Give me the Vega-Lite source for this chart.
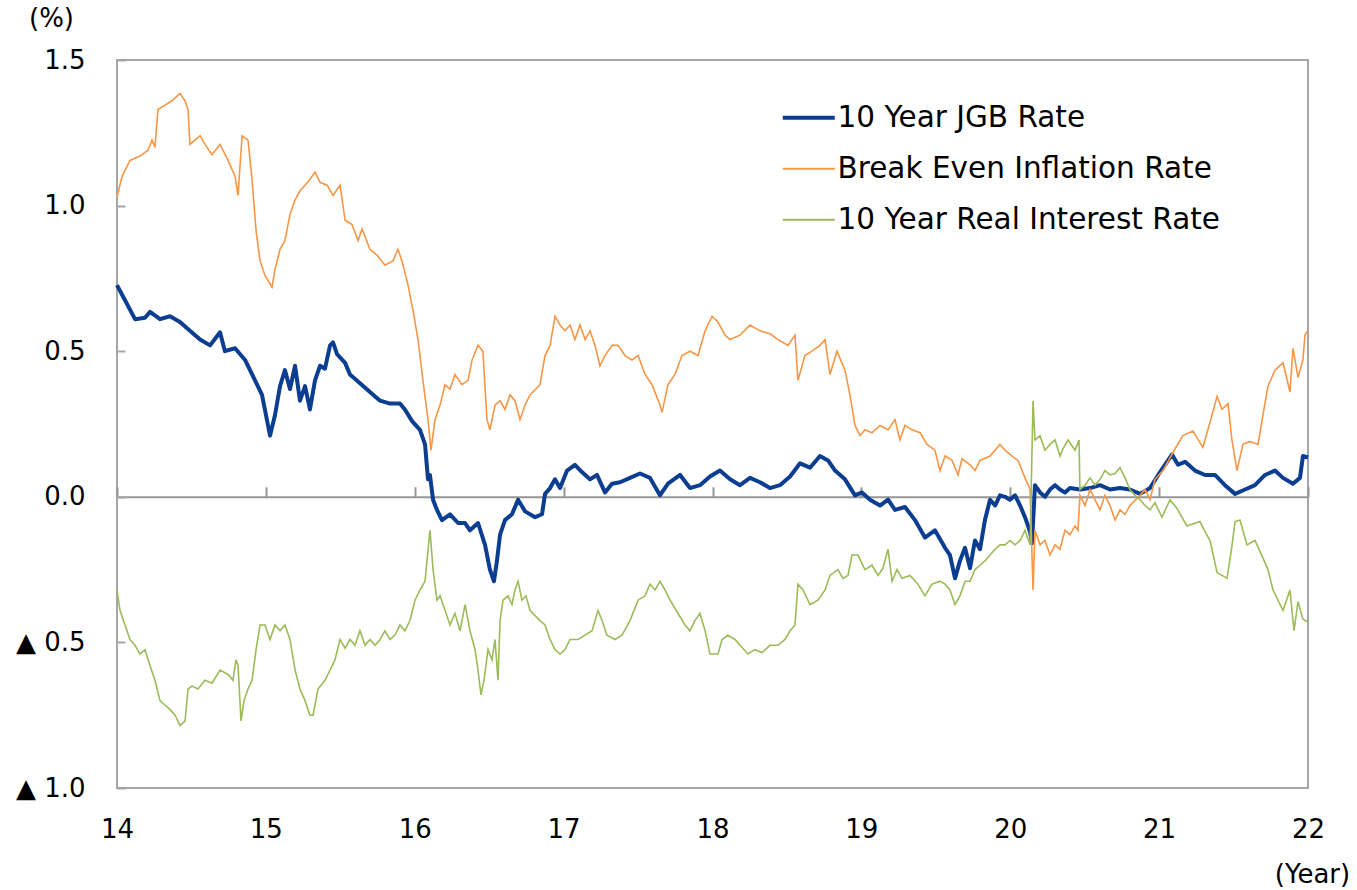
{
"$schema": "https://vega.github.io/schema/vega-lite/v6.json",
"width": 1191, "height": 728,
"autosize": {"type": "none"},
"padding": {"left": 117, "top": 60, "right": 49, "bottom": 102},
"background": "white",
"config": {
  "view": {"stroke": "#a6a6a6", "strokeWidth": 2},
  "font": "DejaVu Sans",
  "axis": {"labelFont": "DejaVu Sans", "titleFont": "DejaVu Sans", "labelColor": "#000", "titleColor": "#000", "grid": false, "labelFontSize": 26, "titleFontSize": 26, "titleFontWeight": "normal"}
},
"encoding": {
  "y": {"field": "v", "type": "quantitative",
    "scale": {"domain": [-1, 1.5], "nice": false, "zero": false},
    "axis": {"values": [-1, -0.5, 0, 0.5, 1, 1.5], "domain": false, "ticks": true, "tickSize": -8, "tickColor": "#a6a6a6", "tickWidth": 2, "labelPadding": 40,
      "labelExpr": "datum.value < 0 ? '▲ ' + format(-datum.value, '.1f') : format(datum.value, '.1f')",
      "title": "(%)", "titleAngle": 0, "titleX": -66, "titleY": -42, "titleAlign": "center", "titleBaseline": "middle"}}
},
"layer": [
{
  "data": {"values": [
{"t":14.000,"v":0.727},{"t":14.054,"v":0.675},{"t":14.121,"v":0.61},{"t":14.188,"v":0.615},{"t":14.222,"v":0.635},{"t":14.289,"v":0.61},{"t":14.356,"v":0.62},{"t":14.423,"v":0.60},{"t":14.490,"v":0.57},{"t":14.558,"v":0.54},{"t":14.625,"v":0.52},{"t":14.692,"v":0.565},{"t":14.725,"v":0.50},{"t":14.793,"v":0.51},{"t":14.860,"v":0.47},{"t":14.927,"v":0.40},{"t":14.974,"v":0.35},{"t":15.028,"v":0.21},{"t":15.061,"v":0.28},{"t":15.095,"v":0.38},{"t":15.128,"v":0.435},{"t":15.162,"v":0.37},{"t":15.196,"v":0.45},{"t":15.229,"v":0.33},{"t":15.263,"v":0.38},{"t":15.296,"v":0.30},{"t":15.330,"v":0.40},{"t":15.364,"v":0.45},{"t":15.397,"v":0.44},{"t":15.431,"v":0.52},{"t":15.451,"v":0.53},{"t":15.478,"v":0.49},{"t":15.532,"v":0.46},{"t":15.565,"v":0.42},{"t":15.632,"v":0.39},{"t":15.699,"v":0.36},{"t":15.767,"v":0.33},{"t":15.834,"v":0.32},{"t":15.901,"v":0.32},{"t":15.934,"v":0.30},{"t":15.982,"v":0.26},{"t":16.035,"v":0.23},{"t":16.069,"v":0.18},{"t":16.089,"v":0.06},{"t":16.102,"v":0.075},{"t":16.123,"v":-0.01},{"t":16.149,"v":-0.045},{"t":16.183,"v":-0.08},{"t":16.237,"v":-0.06},{"t":16.291,"v":-0.09},{"t":16.338,"v":-0.09},{"t":16.371,"v":-0.115},{"t":16.425,"v":-0.09},{"t":16.472,"v":-0.165},{"t":16.505,"v":-0.25},{"t":16.532,"v":-0.29},{"t":16.552,"v":-0.22},{"t":16.573,"v":-0.13},{"t":16.606,"v":-0.08},{"t":16.653,"v":-0.06},{"t":16.694,"v":-0.01},{"t":16.741,"v":-0.05},{"t":16.808,"v":-0.07},{"t":16.855,"v":-0.06},{"t":16.875,"v":0.01},{"t":16.909,"v":0.03},{"t":16.942,"v":0.06},{"t":16.976,"v":0.03},{"t":17.023,"v":0.09},{"t":17.076,"v":0.11},{"t":17.123,"v":0.085},{"t":17.177,"v":0.06},{"t":17.224,"v":0.075},{"t":17.278,"v":0.015},{"t":17.325,"v":0.045},{"t":17.379,"v":0.05},{"t":17.446,"v":0.065},{"t":17.513,"v":0.08},{"t":17.580,"v":0.065},{"t":17.647,"v":0.005},{"t":17.701,"v":0.045},{"t":17.782,"v":0.075},{"t":17.849,"v":0.03},{"t":17.916,"v":0.04},{"t":17.983,"v":0.07},{"t":18.050,"v":0.09},{"t":18.118,"v":0.06},{"t":18.185,"v":0.04},{"t":18.252,"v":0.065},{"t":18.319,"v":0.05},{"t":18.386,"v":0.03},{"t":18.453,"v":0.04},{"t":18.521,"v":0.07},{"t":18.588,"v":0.115},{"t":18.655,"v":0.10},{"t":18.722,"v":0.14},{"t":18.776,"v":0.125},{"t":18.823,"v":0.09},{"t":18.890,"v":0.06},{"t":18.957,"v":0.005},{"t":19.004,"v":0.015},{"t":19.058,"v":-0.01},{"t":19.125,"v":-0.03},{"t":19.179,"v":-0.01},{"t":19.226,"v":-0.045},{"t":19.293,"v":-0.035},{"t":19.360,"v":-0.08},{"t":19.427,"v":-0.14},{"t":19.494,"v":-0.115},{"t":19.562,"v":-0.175},{"t":19.595,"v":-0.2},{"t":19.629,"v":-0.28},{"t":19.662,"v":-0.22},{"t":19.696,"v":-0.175},{"t":19.730,"v":-0.245},{"t":19.763,"v":-0.15},{"t":19.797,"v":-0.18},{"t":19.830,"v":-0.08},{"t":19.864,"v":-0.01},{"t":19.898,"v":-0.03},{"t":19.931,"v":0.005},{"t":19.965,"v":0.0},{"t":19.998,"v":-0.01},{"t":20.032,"v":0.005},{"t":20.066,"v":-0.03},{"t":20.099,"v":-0.07},{"t":20.133,"v":-0.12},{"t":20.146,"v":-0.16},{"t":20.166,"v":0.04},{"t":20.200,"v":0.015},{"t":20.233,"v":0.0},{"t":20.267,"v":0.025},{"t":20.301,"v":0.04},{"t":20.334,"v":0.025},{"t":20.368,"v":0.015},{"t":20.401,"v":0.03},{"t":20.468,"v":0.025},{"t":20.536,"v":0.03},{"t":20.603,"v":0.04},{"t":20.670,"v":0.025},{"t":20.737,"v":0.03},{"t":20.804,"v":0.025},{"t":20.872,"v":0.01},{"t":20.939,"v":0.03},{"t":21.006,"v":0.085},{"t":21.086,"v":0.145},{"t":21.127,"v":0.11},{"t":21.174,"v":0.12},{"t":21.241,"v":0.09},{"t":21.308,"v":0.075},{"t":21.375,"v":0.075},{"t":21.442,"v":0.04},{"t":21.510,"v":0.01},{"t":21.577,"v":0.025},{"t":21.644,"v":0.04},{"t":21.711,"v":0.075},{"t":21.778,"v":0.09},{"t":21.832,"v":0.065},{"t":21.899,"v":0.045},{"t":21.946,"v":0.065},{"t":21.966,"v":0.14},{"t":22.000,"v":0.135}
  ]},
  "mark": {"type": "line", "strokeWidth": 4, "strokeJoin": "round"},
  "encoding": {
    "x": {"field": "t", "type": "quantitative", "scale": {"domain": [14, 22], "nice": false, "zero": false},
      "axis": {"orient": "bottom", "values": [14, 15, 16, 17, 18, 19, 20, 21, 22], "format": "d", "domain": false, "ticks": false, "labelPadding": 28, "labelFlush": false,
        "title": "(Year)", "titleX": 1195, "titleY": 86, "titleAlign": "center", "titleBaseline": "middle", "titleAnchor": null}},
    "color": {"datum": "10 Year JGB Rate", "type": "nominal",
      "scale": {"domain": ["10 Year JGB Rate", "Break Even Inflation Rate", "10 Year Real Interest Rate"], "range": ["#0b3d91", "#f79646", "#9bbb59"]},
      "legend": {"title": null, "orient": "none", "legendX": 677, "legendY": 43, "symbolType": "stroke", "symbolSize": 2704, "symbolStrokeWidth": 2, "labelFontSize": 29.5, "labelFont": "DejaVu Sans", "labelColor": "#000", "labelOffset": 14, "rowPadding": 20, "labelLimit": 600,
        "encode": {"symbols": {"update": {"strokeWidth": {"signal": "datum.value === '10 Year JGB Rate' ? 4 : 2"}}}}}}
  }
},
{
  "data": {"values": [
{"t":14.000,"v":1.03},{"t":14.034,"v":1.10},{"t":14.087,"v":1.155},{"t":14.154,"v":1.17},{"t":14.208,"v":1.19},{"t":14.235,"v":1.225},{"t":14.255,"v":1.20},{"t":14.275,"v":1.33},{"t":14.322,"v":1.345},{"t":14.369,"v":1.36},{"t":14.423,"v":1.385},{"t":14.457,"v":1.36},{"t":14.477,"v":1.33},{"t":14.490,"v":1.21},{"t":14.524,"v":1.225},{"t":14.558,"v":1.24},{"t":14.591,"v":1.21},{"t":14.638,"v":1.175},{"t":14.692,"v":1.21},{"t":14.746,"v":1.155},{"t":14.793,"v":1.10},{"t":14.813,"v":1.035},{"t":14.840,"v":1.24},{"t":14.880,"v":1.225},{"t":14.907,"v":1.09},{"t":14.934,"v":0.915},{"t":14.961,"v":0.81},{"t":14.994,"v":0.76},{"t":15.041,"v":0.72},{"t":15.061,"v":0.78},{"t":15.095,"v":0.85},{"t":15.128,"v":0.88},{"t":15.162,"v":0.97},{"t":15.196,"v":1.02},{"t":15.229,"v":1.05},{"t":15.263,"v":1.07},{"t":15.296,"v":1.09},{"t":15.330,"v":1.115},{"t":15.364,"v":1.08},{"t":15.411,"v":1.07},{"t":15.451,"v":1.035},{"t":15.498,"v":1.07},{"t":15.532,"v":0.95},{"t":15.579,"v":0.935},{"t":15.619,"v":0.88},{"t":15.646,"v":0.92},{"t":15.699,"v":0.85},{"t":15.746,"v":0.83},{"t":15.800,"v":0.795},{"t":15.854,"v":0.81},{"t":15.887,"v":0.85},{"t":15.914,"v":0.81},{"t":15.955,"v":0.727},{"t":15.988,"v":0.64},{"t":16.022,"v":0.54},{"t":16.055,"v":0.40},{"t":16.089,"v":0.265},{"t":16.109,"v":0.16},{"t":16.136,"v":0.265},{"t":16.170,"v":0.315},{"t":16.203,"v":0.385},{"t":16.237,"v":0.37},{"t":16.270,"v":0.42},{"t":16.317,"v":0.385},{"t":16.358,"v":0.40},{"t":16.385,"v":0.47},{"t":16.425,"v":0.52},{"t":16.458,"v":0.50},{"t":16.485,"v":0.265},{"t":16.505,"v":0.23},{"t":16.539,"v":0.315},{"t":16.573,"v":0.33},{"t":16.606,"v":0.30},{"t":16.640,"v":0.35},{"t":16.673,"v":0.33},{"t":16.707,"v":0.265},{"t":16.741,"v":0.315},{"t":16.774,"v":0.35},{"t":16.841,"v":0.385},{"t":16.875,"v":0.485},{"t":16.909,"v":0.52},{"t":16.942,"v":0.62},{"t":16.976,"v":0.59},{"t":17.009,"v":0.57},{"t":17.043,"v":0.59},{"t":17.076,"v":0.54},{"t":17.110,"v":0.59},{"t":17.144,"v":0.54},{"t":17.177,"v":0.57},{"t":17.211,"v":0.52},{"t":17.244,"v":0.45},{"t":17.278,"v":0.485},{"t":17.325,"v":0.52},{"t":17.365,"v":0.52},{"t":17.412,"v":0.485},{"t":17.459,"v":0.47},{"t":17.500,"v":0.485},{"t":17.547,"v":0.42},{"t":17.594,"v":0.385},{"t":17.647,"v":0.315},{"t":17.661,"v":0.29},{"t":17.701,"v":0.385},{"t":17.748,"v":0.42},{"t":17.795,"v":0.485},{"t":17.849,"v":0.50},{"t":17.903,"v":0.485},{"t":17.950,"v":0.57},{"t":17.997,"v":0.62},{"t":18.037,"v":0.60},{"t":18.084,"v":0.555},{"t":18.118,"v":0.54},{"t":18.185,"v":0.555},{"t":18.252,"v":0.59},{"t":18.319,"v":0.57},{"t":18.386,"v":0.56},{"t":18.440,"v":0.54},{"t":18.507,"v":0.52},{"t":18.554,"v":0.555},{"t":18.574,"v":0.40},{"t":18.621,"v":0.485},{"t":18.668,"v":0.50},{"t":18.722,"v":0.52},{"t":18.756,"v":0.54},{"t":18.789,"v":0.42},{"t":18.836,"v":0.50},{"t":18.890,"v":0.435},{"t":18.923,"v":0.35},{"t":18.957,"v":0.245},{"t":18.991,"v":0.21},{"t":19.024,"v":0.23},{"t":19.071,"v":0.22},{"t":19.125,"v":0.245},{"t":19.179,"v":0.23},{"t":19.226,"v":0.265},{"t":19.259,"v":0.195},{"t":19.293,"v":0.245},{"t":19.340,"v":0.23},{"t":19.394,"v":0.22},{"t":19.441,"v":0.18},{"t":19.494,"v":0.16},{"t":19.528,"v":0.09},{"t":19.562,"v":0.14},{"t":19.609,"v":0.125},{"t":19.649,"v":0.075},{"t":19.676,"v":0.13},{"t":19.730,"v":0.11},{"t":19.763,"v":0.09},{"t":19.797,"v":0.125},{"t":19.864,"v":0.14},{"t":19.931,"v":0.18},{"t":19.965,"v":0.16},{"t":20.012,"v":0.14},{"t":20.052,"v":0.125},{"t":20.099,"v":0.065},{"t":20.133,"v":0.025},{"t":20.153,"v":-0.32},{"t":20.166,"v":-0.115},{"t":20.200,"v":-0.165},{"t":20.233,"v":-0.15},{"t":20.267,"v":-0.2},{"t":20.301,"v":-0.165},{"t":20.334,"v":-0.18},{"t":20.368,"v":-0.115},{"t":20.401,"v":-0.13},{"t":20.435,"v":-0.1},{"t":20.455,"v":-0.115},{"t":20.468,"v":0.005},{"t":20.502,"v":-0.03},{"t":20.536,"v":0.025},{"t":20.569,"v":-0.01},{"t":20.603,"v":-0.045},{"t":20.636,"v":0.005},{"t":20.670,"v":-0.03},{"t":20.704,"v":-0.08},{"t":20.737,"v":-0.045},{"t":20.771,"v":-0.06},{"t":20.804,"v":-0.03},{"t":20.872,"v":0.005},{"t":20.905,"v":0.025},{"t":20.939,"v":-0.01},{"t":20.972,"v":0.06},{"t":21.026,"v":0.09},{"t":21.107,"v":0.165},{"t":21.160,"v":0.21},{"t":21.227,"v":0.226},{"t":21.294,"v":0.17},{"t":21.355,"v":0.28},{"t":21.389,"v":0.345},{"t":21.422,"v":0.30},{"t":21.463,"v":0.32},{"t":21.489,"v":0.195},{"t":21.523,"v":0.09},{"t":21.563,"v":0.18},{"t":21.610,"v":0.19},{"t":21.664,"v":0.18},{"t":21.697,"v":0.28},{"t":21.731,"v":0.38},{"t":21.778,"v":0.435},{"t":21.832,"v":0.46},{"t":21.879,"v":0.36},{"t":21.899,"v":0.51},{"t":21.933,"v":0.41},{"t":21.966,"v":0.47},{"t":21.980,"v":0.556},{"t":22.000,"v":0.57}
  ]},
  "mark": {"type": "line", "strokeWidth": 1.6},
  "encoding": {
    "x": {"field": "t", "type": "quantitative", "axis": null},
    "color": {"datum": "Break Even Inflation Rate", "type": "nominal"}
  }
},
{
  "data": {"values": [
{"t":14.000,"v":-0.32},{"t":14.020,"v":-0.39},{"t":14.054,"v":-0.44},{"t":14.087,"v":-0.49},{"t":14.121,"v":-0.51},{"t":14.154,"v":-0.54},{"t":14.188,"v":-0.525},{"t":14.222,"v":-0.58},{"t":14.255,"v":-0.63},{"t":14.289,"v":-0.70},{"t":14.322,"v":-0.715},{"t":14.356,"v":-0.73},{"t":14.390,"v":-0.75},{"t":14.423,"v":-0.785},{"t":14.457,"v":-0.77},{"t":14.477,"v":-0.66},{"t":14.504,"v":-0.65},{"t":14.544,"v":-0.66},{"t":14.591,"v":-0.63},{"t":14.638,"v":-0.64},{"t":14.692,"v":-0.595},{"t":14.746,"v":-0.61},{"t":14.779,"v":-0.63},{"t":14.799,"v":-0.56},{"t":14.813,"v":-0.58},{"t":14.833,"v":-0.77},{"t":14.853,"v":-0.70},{"t":14.880,"v":-0.66},{"t":14.907,"v":-0.63},{"t":14.934,"v":-0.525},{"t":14.961,"v":-0.44},{"t":14.994,"v":-0.44},{"t":15.028,"v":-0.49},{"t":15.061,"v":-0.44},{"t":15.095,"v":-0.46},{"t":15.128,"v":-0.44},{"t":15.162,"v":-0.49},{"t":15.196,"v":-0.595},{"t":15.229,"v":-0.66},{"t":15.263,"v":-0.70},{"t":15.296,"v":-0.75},{"t":15.317,"v":-0.75},{"t":15.350,"v":-0.66},{"t":15.397,"v":-0.63},{"t":15.431,"v":-0.595},{"t":15.464,"v":-0.56},{"t":15.498,"v":-0.49},{"t":15.532,"v":-0.52},{"t":15.565,"v":-0.49},{"t":15.599,"v":-0.51},{"t":15.632,"v":-0.46},{"t":15.666,"v":-0.51},{"t":15.699,"v":-0.49},{"t":15.733,"v":-0.51},{"t":15.767,"v":-0.49},{"t":15.800,"v":-0.46},{"t":15.834,"v":-0.49},{"t":15.867,"v":-0.475},{"t":15.901,"v":-0.44},{"t":15.934,"v":-0.46},{"t":15.968,"v":-0.425},{"t":16.002,"v":-0.355},{"t":16.035,"v":-0.32},{"t":16.069,"v":-0.29},{"t":16.102,"v":-0.115},{"t":16.123,"v":-0.25},{"t":16.149,"v":-0.355},{"t":16.170,"v":-0.34},{"t":16.203,"v":-0.39},{"t":16.237,"v":-0.44},{"t":16.270,"v":-0.40},{"t":16.304,"v":-0.46},{"t":16.338,"v":-0.37},{"t":16.371,"v":-0.46},{"t":16.405,"v":-0.525},{"t":16.425,"v":-0.595},{"t":16.445,"v":-0.68},{"t":16.465,"v":-0.63},{"t":16.492,"v":-0.525},{"t":16.519,"v":-0.56},{"t":16.539,"v":-0.49},{"t":16.559,"v":-0.63},{"t":16.573,"v":-0.425},{"t":16.593,"v":-0.355},{"t":16.626,"v":-0.34},{"t":16.653,"v":-0.37},{"t":16.673,"v":-0.32},{"t":16.694,"v":-0.29},{"t":16.720,"v":-0.355},{"t":16.747,"v":-0.34},{"t":16.774,"v":-0.39},{"t":16.841,"v":-0.425},{"t":16.875,"v":-0.44},{"t":16.909,"v":-0.49},{"t":16.942,"v":-0.525},{"t":16.976,"v":-0.54},{"t":17.009,"v":-0.525},{"t":17.043,"v":-0.49},{"t":17.097,"v":-0.49},{"t":17.144,"v":-0.475},{"t":17.191,"v":-0.46},{"t":17.231,"v":-0.39},{"t":17.258,"v":-0.425},{"t":17.291,"v":-0.475},{"t":17.345,"v":-0.49},{"t":17.392,"v":-0.475},{"t":17.446,"v":-0.425},{"t":17.500,"v":-0.355},{"t":17.547,"v":-0.34},{"t":17.580,"v":-0.30},{"t":17.614,"v":-0.32},{"t":17.647,"v":-0.29},{"t":17.681,"v":-0.32},{"t":17.715,"v":-0.355},{"t":17.768,"v":-0.40},{"t":17.815,"v":-0.44},{"t":17.849,"v":-0.46},{"t":17.882,"v":-0.425},{"t":17.916,"v":-0.40},{"t":17.950,"v":-0.46},{"t":17.983,"v":-0.54},{"t":18.037,"v":-0.54},{"t":18.064,"v":-0.49},{"t":18.104,"v":-0.475},{"t":18.151,"v":-0.49},{"t":18.185,"v":-0.51},{"t":18.238,"v":-0.54},{"t":18.285,"v":-0.525},{"t":18.332,"v":-0.535},{"t":18.386,"v":-0.51},{"t":18.440,"v":-0.51},{"t":18.487,"v":-0.49},{"t":18.521,"v":-0.46},{"t":18.554,"v":-0.44},{"t":18.574,"v":-0.30},{"t":18.608,"v":-0.32},{"t":18.655,"v":-0.37},{"t":18.709,"v":-0.355},{"t":18.756,"v":-0.32},{"t":18.789,"v":-0.27},{"t":18.843,"v":-0.25},{"t":18.876,"v":-0.28},{"t":18.910,"v":-0.27},{"t":18.937,"v":-0.20},{"t":18.977,"v":-0.20},{"t":19.024,"v":-0.25},{"t":19.071,"v":-0.235},{"t":19.112,"v":-0.27},{"t":19.145,"v":-0.245},{"t":19.179,"v":-0.18},{"t":19.206,"v":-0.29},{"t":19.239,"v":-0.25},{"t":19.273,"v":-0.28},{"t":19.327,"v":-0.27},{"t":19.380,"v":-0.30},{"t":19.427,"v":-0.34},{"t":19.474,"v":-0.30},{"t":19.528,"v":-0.29},{"t":19.562,"v":-0.30},{"t":19.595,"v":-0.32},{"t":19.629,"v":-0.37},{"t":19.662,"v":-0.34},{"t":19.696,"v":-0.29},{"t":19.730,"v":-0.29},{"t":19.763,"v":-0.25},{"t":19.797,"v":-0.235},{"t":19.830,"v":-0.22},{"t":19.864,"v":-0.20},{"t":19.898,"v":-0.18},{"t":19.931,"v":-0.165},{"t":19.965,"v":-0.165},{"t":19.998,"v":-0.15},{"t":20.032,"v":-0.165},{"t":20.066,"v":-0.15},{"t":20.099,"v":-0.115},{"t":20.133,"v":-0.165},{"t":20.153,"v":0.33},{"t":20.166,"v":0.195},{"t":20.200,"v":0.21},{"t":20.233,"v":0.16},{"t":20.267,"v":0.18},{"t":20.301,"v":0.195},{"t":20.334,"v":0.14},{"t":20.354,"v":0.165},{"t":20.388,"v":0.195},{"t":20.435,"v":0.16},{"t":20.462,"v":0.195},{"t":20.468,"v":0.025},{"t":20.502,"v":0.04},{"t":20.536,"v":0.065},{"t":20.569,"v":0.04},{"t":20.603,"v":0.06},{"t":20.636,"v":0.09},{"t":20.670,"v":0.075},{"t":20.704,"v":0.08},{"t":20.737,"v":0.10},{"t":20.771,"v":0.065},{"t":20.804,"v":0.025},{"t":20.838,"v":0.005},{"t":20.872,"v":-0.01},{"t":20.905,"v":-0.03},{"t":20.939,"v":-0.045},{"t":20.972,"v":-0.02},{"t":21.019,"v":-0.07},{"t":21.073,"v":-0.01},{"t":21.120,"v":-0.04},{"t":21.187,"v":-0.1},{"t":21.274,"v":-0.085},{"t":21.308,"v":-0.12},{"t":21.342,"v":-0.15},{"t":21.389,"v":-0.26},{"t":21.422,"v":-0.27},{"t":21.456,"v":-0.28},{"t":21.489,"v":-0.17},{"t":21.510,"v":-0.085},{"t":21.543,"v":-0.08},{"t":21.590,"v":-0.165},{"t":21.644,"v":-0.15},{"t":21.697,"v":-0.21},{"t":21.731,"v":-0.25},{"t":21.765,"v":-0.32},{"t":21.832,"v":-0.39},{"t":21.879,"v":-0.32},{"t":21.906,"v":-0.46},{"t":21.933,"v":-0.36},{"t":21.966,"v":-0.42},{"t":22.000,"v":-0.43}
  ]},
  "mark": {"type": "line", "strokeWidth": 1.6},
  "encoding": {
    "x": {"field": "t", "type": "quantitative",
      "axis": {"orient": "top", "offset": -436.8, "values": [14, 15, 16, 17, 18, 19, 20, 21, 22], "labels": false, "domain": true, "domainColor": "#969696", "domainWidth": 2, "ticks": true, "tickSize": 10, "tickColor": "#969696", "tickWidth": 2, "title": null}},
    "color": {"datum": "10 Year Real Interest Rate", "type": "nominal"}
  }
}
],
"resolve": {"axis": {"x": "independent"}}
}
